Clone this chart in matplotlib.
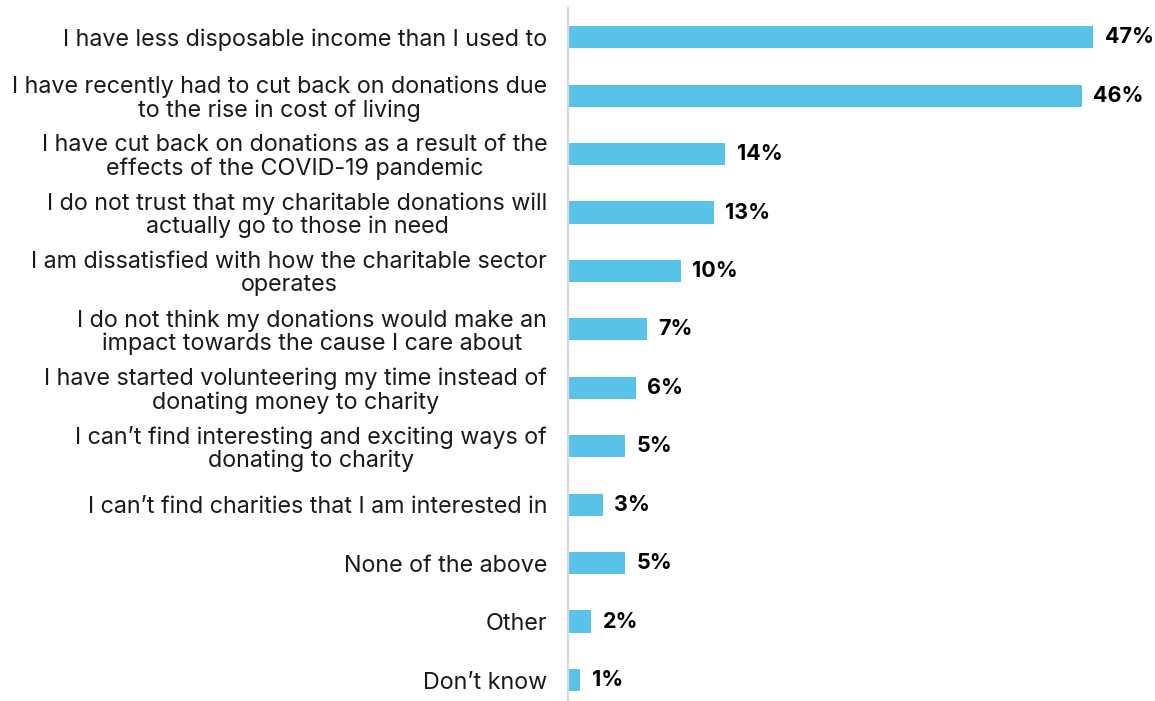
import matplotlib.pyplot as plt

categories = [
    "I have less disposable income than I used to",
    "I have recently had to cut back on donations due\nto the rise in cost of living",
    "I have cut back on donations as a result of the\neffects of the COVID-19 pandemic",
    "I do not trust that my charitable donations will\nactually go to those in need",
    "I am dissatisfied with how the charitable sector\noperates",
    "I do not think my donations would make an\nimpact towards the cause I care about",
    "I have started volunteering my time instead of\ndonating money to charity",
    "I can\u2019t find interesting and exciting ways of\ndonating to charity",
    "I can\u2019t find charities that I am interested in",
    "None of the above",
    "Other",
    "Don\u2019t know",
]
values = [47, 46, 14, 13, 10, 7, 6, 5, 3, 5, 2, 1]

plt.rcParams['font.family'] = ['Inter', 'DejaVu Sans']

W, H = 1155, 701
fig = plt.figure(figsize=(W / 100, H / 100), dpi=100)
ax = fig.add_axes([568 / W, 0, 1 - 568 / W, 1 - 8 / H])

pos = list(range(len(categories)))
ax.barh(pos, values, height=0.38, color='#58C2E8', left=0.1)
ax.set_ylim(11 + 21 / 58.45, -0.5)
ax.set_xlim(0, 587 / 11.15)

for y, v in zip(pos, values):
    ax.annotate(f"{v}%", (v, y), xytext=(9, 0), textcoords='offset points',
                ha='left', va='center', fontsize=15.5, fontweight='bold', color='black')

ax.set_yticks(pos)
ax.set_yticklabels(categories, fontsize=16.8, color='#1a1a1a', multialignment='center',
                   linespacing=1.05)
ax.tick_params(axis='y', length=0, pad=15)
ax.set_xticks([])

for side in ['top', 'right', 'bottom']:
    ax.spines[side].set_visible(False)
ax.spines['left'].set_color('#d9d9d9')
ax.spines['left'].set_linewidth(1.6)

fig.savefig('out.png', dpi=100)
